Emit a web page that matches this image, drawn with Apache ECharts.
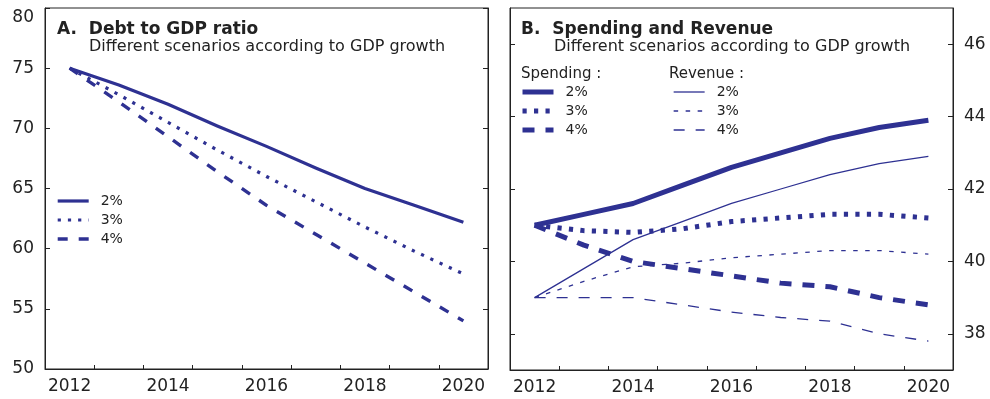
<!DOCTYPE html>
<html>
<head>
<meta charset="utf-8">
<title>Debt, Spending and Revenue scenarios</title>
<script src="https://cdn.jsdelivr.net/npm/echarts@6/dist/echarts.min.js"></script>
<style>
  html, body { margin: 0; padding: 0; background: #fff; }
  #chart { width: 990px; height: 399px; }
</style>
</head>
<body>
<div id="chart"></div>
<script>
// Years shown on both panels
const years = ['2012', '2013', '2014', '2015', '2016', '2017', '2018', '2019', '2020'];

// Panel A: debt to GDP ratio (percent) by GDP growth scenario
const debt2 = [75.0, 73.6, 72.0, 70.2, 68.5, 66.7, 65.0, 63.6, 62.2];
const debt3 = [75.0, 72.8, 70.5, 68.2, 66.0, 63.9, 61.8, 59.8, 57.9];
const debt4 = [75.0, 72.2, 69.3, 66.4, 63.6, 61.2, 58.8, 56.4, 54.0];

// Panel B: spending and revenue (percent of GDP) by GDP growth scenario
const spend2 = [41.0, 41.3, 41.6, 42.1, 42.6, 43.0, 43.4, 43.7, 43.9];
const spend3 = [41.0, 40.85, 40.8, 40.9, 41.1, 41.2, 41.3, 41.3, 41.2];
const spend4 = [41.0, 40.45, 40.0, 39.8, 39.6, 39.4, 39.3, 39.0, 38.8];
const rev2 = [39.0, 39.8, 40.6, 41.1, 41.6, 42.0, 42.4, 42.7, 42.9];
const rev3 = [39.0, 39.45, 39.85, 39.95, 40.1, 40.2, 40.3, 40.3, 40.2];
const rev4 = [39.0, 39.0, 39.0, 38.8, 38.6, 38.45, 38.35, 38.0, 37.8];

// Tick values
const debtTicks = [50, 55, 60, 65, 70, 75, 80];
const ratioTicks = [38, 40, 42, 44, 46];

const NAVY = '#2e3192';
const INK = '#222';
const FONT = 'DejaVu Sans';

const chart = echarts.init(document.getElementById('chart'), null, { renderer: 'canvas' });

function xAxis(gridIndex) {
  return {
    type: 'category',
    gridIndex: gridIndex,
    data: years,
    boundaryGap: true,
    axisLine: { lineStyle: { color: INK, width: 1 } },
    axisTick: { show: true, inside: true, length: 4, interval: 0, alignWithLabel: false, lineStyle: { color: INK } },
    axisLabel: { interval: 1, margin: 9, color: INK, fontFamily: FONT, fontSize: 17 },
    splitLine: { show: false }
  };
}

function yAxis(gridIndex, position, min, max, interval, ticks, showLabels) {
  return {
    type: 'value',
    gridIndex: gridIndex,
    position: position,
    min: min,
    max: max,
    interval: interval,
    axisLine: { show: true, lineStyle: { color: INK, width: 1 } },
    axisTick: { show: true, inside: true, length: 5, customValues: ticks, lineStyle: { color: INK } },
    axisLabel: {
      show: showLabels,
      customValues: ticks,
      margin: 11,
      color: INK,
      fontFamily: FONT,
      fontSize: 17,
      // the label at the top edge sits a little lower so it stays clear of the frame
      formatter: function (v) { return v === max ? '{edge|' + v + '}' : String(v); },
      rich: { edge: { color: INK, fontFamily: FONT, fontSize: 17, padding: [19, 0, 0, 0] } }
    },
    splitLine: { show: false }
  };
}

function line(name, xi, yi, data, width, dash) {
  return {
    name: name,
    type: 'line',
    xAxisIndex: xi,
    yAxisIndex: yi,
    data: data,
    symbol: 'none',
    silent: true,
    animation: false,
    lineStyle: { color: NAVY, width: width, type: dash || 'solid', cap: 'butt', join: 'round' },
    itemStyle: { color: NAVY }
  };
}

function legend(left, top, names) {
  return {
    orient: 'vertical',
    left: left,
    top: top,
    itemWidth: 31,
    itemHeight: 14,
    itemGap: 5,
    padding: 0,
    selectedMode: false,
    data: names,
    formatter: function (n) { return n.split(' ')[1]; },
    itemStyle: { opacity: 0 },
    lineStyle: { width: 'inherit' },
    textStyle: { color: INK, fontFamily: FONT, fontSize: 14, padding: [0, 0, 0, 7] }
  };
}

function label(text, left, top, size, bold) {
  return {
    text: text,
    left: left,
    top: top,
    padding: 0,
    textStyle: { color: INK, fontFamily: FONT, fontSize: size, fontWeight: bold ? 'bold' : 'normal' }
  };
}

const option = {
  backgroundColor: '#fff',
  animation: false,
  title: [
    label('A.  Debt to GDP ratio', 57, 21, 17, true),
    label('Different scenarios according to GDP growth', 89, 39, 16, false),
    label('B.  Spending and Revenue', 521, 21, 17, true),
    label('Different scenarios according to GDP growth', 554, 39, 16, false),
    label('Spending :', 521, 67, 15, false),
    label('Revenue :', 669, 67, 15, false)
  ],
  grid: [
    { left: 45, right: 502, top: 8, bottom: 30, show: true, borderColor: INK, borderWidth: 1 },
    { left: 510, right: 37, top: 8, bottom: 29, show: true, borderColor: INK, borderWidth: 1 }
  ],
  xAxis: [xAxis(0), xAxis(1)],
  yAxis: [
    yAxis(0, 'left', 50, 80, 5, debtTicks, true),
    yAxis(0, 'right', 50, 80, 5, debtTicks, false),
    yAxis(1, 'right', 37, 47, 1, ratioTicks, true),
    yAxis(1, 'left', 37, 47, 1, ratioTicks, false)
  ],
  legend: [
    legend(56, 194, ['Debt 2%', 'Debt 3%', 'Debt 4%']),
    legend(520, 85, ['Spending 2%', 'Spending 3%', 'Spending 4%']),
    legend(673, 85, ['Revenue 2%', 'Revenue 3%', 'Revenue 4%'])
  ],
  series: [
    line('Debt 2%', 0, 0, debt2, 3.2),
    line('Debt 3%', 0, 0, debt3, 3.2, [3.2, 7]),
    line('Debt 4%', 0, 0, debt4, 3.4, [10, 11]),
    line('Spending 2%', 1, 2, spend2, 5),
    line('Spending 3%', 1, 2, spend3, 5, [4.2, 7.3]),
    line('Spending 4%', 1, 2, spend4, 5, [12, 11]),
    line('Revenue 2%', 1, 2, rev2, 1.3),
    line('Revenue 3%', 1, 2, rev3, 1.3, [4.5, 7.5]),
    line('Revenue 4%', 1, 2, rev4, 1.3, [11, 11])
  ]
};

chart.setOption(option);
</script>
</body>
</html>
